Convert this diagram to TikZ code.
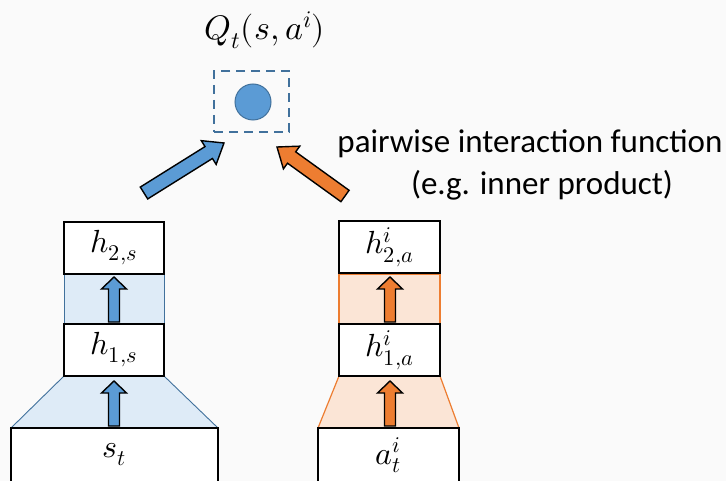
\documentclass[tikz,border=0pt]{standalone}
\usepackage{fontspec}
\usepackage{unicode-math}
\setmainfont{Carlito}
\setmathfont{Latin Modern Math}
\usetikzlibrary{calc}
\definecolor{bgc}{HTML}{FAFAFA}
\definecolor{bluef}{HTML}{5B9BD5}
\definecolor{bluel}{HTML}{41719C}
\definecolor{bluelight}{HTML}{DEEBF7}
\definecolor{orangef}{HTML}{ED7D31}
\definecolor{orangelight}{HTML}{FBE5D6}
\newcommand\blockarr[6]{% from, to, color, shaft half, head half, head len
  \coordinate (ba-a) at (#1);
  \coordinate (ba-b) at (#2);
  \coordinate (ba-n) at ($(ba-b)!#6!(ba-a)$);
  \draw[arrowline, fill=#3]
    ($(ba-a)!#4!90:(ba-b)$) -- ($(ba-n)!#4!90:(ba-b)$) -- ($(ba-n)!#5!90:(ba-b)$)
    -- (ba-b) -- ($(ba-n)!#5!-90:(ba-b)$) -- ($(ba-n)!#4!-90:(ba-b)$)
    -- ($(ba-a)!#4!-90:(ba-b)$) -- cycle;}
\begin{document}
\begin{tikzpicture}[x=1pt,y=-1pt,
  layerbox/.style={draw=black, line width=1.2pt, fill=white, minimum height=52pt, inner sep=0pt, font=\fontsize{32}{36}\selectfont},
  inputbox/.style={layerbox, minimum height=54pt},
  bandblue/.style={draw=bluel, line width=0.9pt, fill=bluelight},
  bandorange/.style={draw=orangef, line width=1.2pt, fill=orangelight},
  arrowline/.style={draw=black, line width=1.4pt, line join=miter},
]
\fill[bgc] (0,0) rectangle (726,481);
\useasboundingbox (0,0) rectangle (726,481);

% left column (state)
\filldraw[bandblue] (11,428) -- (64,376) -- (164,376) -- (218,428) -- cycle;
\filldraw[bandblue] (64,274) rectangle (164,324);
\node[inputbox, minimum width=207pt] (st) at (114.5,455) {$s_t$};
\node[layerbox, minimum width=100pt] (h1s) at (114,350) {$h_{1,s}$};
\node[layerbox, minimum width=100pt] (h2s) at (114,248) {$h_{2,s}$};

% right column (action)
\filldraw[bandorange] (318,428) -- (339,376) -- (440,376) -- (459,428) -- cycle;
\filldraw[bandorange] (339,274) rectangle (440,324);
\node[inputbox, minimum width=141pt] (at) at (388.5,455) {$a_t^i$};
\node[layerbox, minimum width=101pt] (h1a) at (389.5,350) {$h_{1,a}^i$};
\node[layerbox, minimum width=101pt] (h2a) at (389.5,247) {$h_{2,a}^i$};

% output
\node[draw=bluel, dash pattern=on 9pt off 6pt, line width=2pt, minimum width=75pt, minimum height=61pt] (q) at (251.5,101.5) {};
\node[circle, draw=bluel, line width=1pt, fill=bluef, minimum size=36pt, inner sep=0pt] (dot) at (253,102) {};
\node[font=\fontsize{34}{38}\selectfont] (ql) at (265,30) {$Q_t(s,a^i)$};

\node[font=\fontsize{33}{37}\selectfont, align=center] (lab) at (530,165) {pairwise interaction function\\[5pt]\hspace*{24pt}(e.g. inner product)};

% arrows
\coordinate (b1a) at (114,426); \coordinate (b1b) at (114,381);
\coordinate (b2a) at (114,322); \coordinate (b2b) at (114,277);
\coordinate (o1a) at (390,426); \coordinate (o1b) at (390,381);
\coordinate (o2a) at (390,322); \coordinate (o2b) at (390,277);
\coordinate (bla) at (144,193); \coordinate (blb) at (224,143);
\coordinate (ora) at (345,196); \coordinate (orb) at (277,147);
\blockarr{b1a}{b1b}{bluef}{5.5pt}{12.5pt}{12pt}
\blockarr{b2a}{b2b}{bluef}{5.5pt}{12.5pt}{12pt}
\blockarr{o1a}{o1b}{orangef}{5.5pt}{12.5pt}{12pt}
\blockarr{o2a}{o2b}{orangef}{5.5pt}{12.5pt}{12pt}
\blockarr{bla}{blb}{bluef}{7pt}{14pt}{18pt}
\blockarr{ora}{orb}{orangef}{7pt}{14pt}{18pt}
\end{tikzpicture}
\end{document}
